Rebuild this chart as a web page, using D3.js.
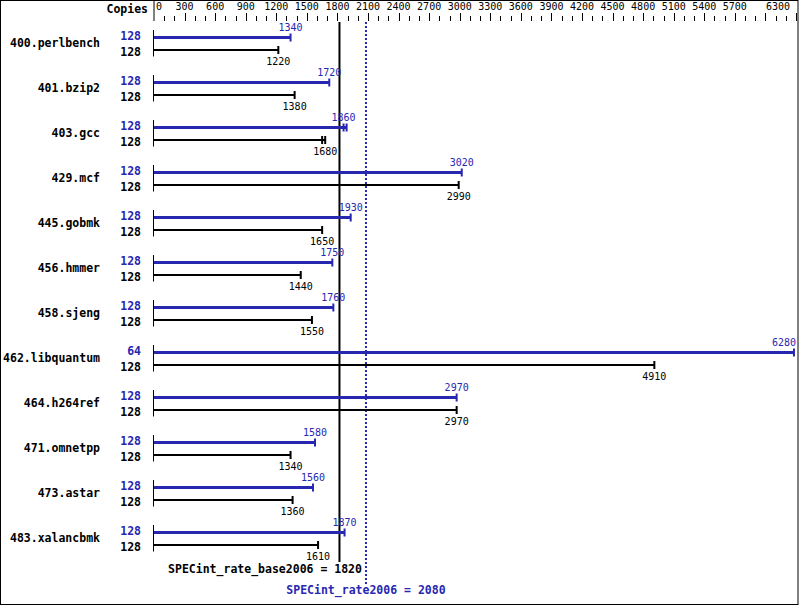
<!DOCTYPE html>
<html><head><meta charset="utf-8">
<script src="https://cdn.jsdelivr.net/npm/d3@7"></script>
<style>body{margin:0;background:#fff}svg{display:block}</style>
</head><body>
<script>
const benchmarks = ["400.perlbench","401.bzip2","403.gcc","429.mcf","445.gobmk","456.hmmer","458.sjeng","462.libquantum","464.h264ref","471.omnetpp","473.astar","483.xalancbmk"];
const peakCopies = [128,128,128,128,128,128,128,64,128,128,128,128];
const baseCopies = [128,128,128,128,128,128,128,128,128,128,128,128];
const peakValues = [1340,1720,1860,3020,1930,1750,1760,6280,2970,1580,1560,1870];
const baseValues = [1220,1380,1680,2990,1650,1440,1550,4910,2970,1340,1360,1610];
const peakOther  = [null,null,1890,null,null,null,null,null,null,null,null,null];
const baseOther  = [null,null,1650,null,null,null,null,null,null,null,null,null];
const tickLabels = [0,300,600,900,1200,1500,1800,2100,2400,2700,3000,3300,3600,3900,4200,4500,4800,5100,5400,5700,6300];
const baseScore = 1820, peakScore = 2080;

const W = 799, H = 606;
const BLUE = "#2727b0";
const MONO = "'DejaVu Sans Mono', 'Liberation Mono', monospace";
const svg = d3.select("body").append("svg").attr("width", W).attr("height", H);
const x = d3.scaleLinear().domain([0, 6300]).range([154, 796]);
const rowY = d3.scaleLinear().domain([0, 1]).range([37.5, 82.5]);

svg.append("rect").attr("x",0.5).attr("y",0.5).attr("width",W-1.5).attr("height",H-2).attr("fill","none").attr("stroke","#000");

// top axis
svg.append("line").attr("x1",x(0)).attr("x2",x(0)).attr("y1",0).attr("y2",21).attr("stroke","#000");
const minor = d3.range(100, 6301, 100);
svg.append("g").selectAll("line").data(minor).join("line")
  .attr("x1", d => Math.round(x(d))+0.5).attr("x2", d => Math.round(x(d))+0.5)
  .attr("y1", d => d % 300 === 0 ? 13 : 16).attr("y2", 21).attr("stroke","#000");
svg.append("g").selectAll("text").data(tickLabels).join("text")
  .attr("x", d => d === 0 ? x(d)+2 : (d === 6300 ? x(d)-6 : x(d)))
  .attr("y", 10)
  .attr("text-anchor", d => d === 0 ? "start" : (d === 6300 ? "end" : "middle"))
  .attr("font-family", MONO).attr("font-size", 10).text(d => d);
svg.append("text").attr("x",148).attr("y",13).attr("text-anchor","end")
  .attr("font-family",MONO).attr("font-size",11.5).attr("font-weight","bold").text("Copies");

// score lines
svg.append("line").attr("x1",x(baseScore)).attr("x2",x(baseScore)).attr("y1",22).attr("y2",562)
  .attr("stroke","#000").attr("stroke-width",2);
svg.append("line").attr("x1",x(peakScore)).attr("x2",x(peakScore)).attr("y1",22).attr("y2",584)
  .attr("stroke",BLUE).attr("stroke-width",2).attr("stroke-dasharray","2,2");

const rows = svg.append("g").selectAll("g").data(benchmarks).join("g")
  .attr("transform", (d,i) => `translate(0,${rowY(i)})`);

rows.append("text").attr("x",100).attr("y",9).attr("text-anchor","end")
  .attr("font-family",MONO).attr("font-size",11.5).attr("font-weight","bold").text(d => d);
rows.append("text").attr("x",141).attr("y",2).attr("text-anchor","end").attr("fill",BLUE)
  .attr("font-family",MONO).attr("font-size",11.5).attr("font-weight","bold").text((d,i) => peakCopies[i]);
rows.append("text").attr("x",141).attr("y",18.5).attr("text-anchor","end")
  .attr("font-family",MONO).attr("font-size",11.5).attr("font-weight","bold").text((d,i) => baseCopies[i]);
rows.append("line").attr("x1",x(0)-0.5).attr("x2",x(0)-0.5).attr("y1",-7.5).attr("y2",19).attr("stroke","#000");

function bar(g, vals, other, yy, color, sw) {
  g.append("line").attr("x1",x(0)).attr("y1",yy).attr("y2",yy)
    .attr("x2",(d,i) => x(Math.max(vals[i], other[i] || 0)))
    .attr("stroke",color).attr("stroke-width",sw);
  g.append("line").attr("x1",(d,i)=>x(vals[i])).attr("x2",(d,i)=>x(vals[i]))
    .attr("y1",yy-4).attr("y2",yy+4).attr("stroke",color).attr("stroke-width",2);
  g.filter((d,i) => other[i] != null).append("line")
    .attr("x1",d=>x(other[benchmarks.indexOf(d)])).attr("x2",d=>x(other[benchmarks.indexOf(d)]))
    .attr("y1",yy-4).attr("y2",yy+4).attr("stroke",color).attr("stroke-width",2);
}
bar(rows, peakValues, peakOther, 0, BLUE, 3);
bar(rows, baseValues, baseOther, 12.5, "#000", 2);

function valLabel(v, yy, color) {
  return g => g.append("text")
    .attr("x",(d,i) => { const xv = x(v[i]); return xv + 13 > 796 ? 796 : xv; })
    .attr("text-anchor",(d,i) => x(v[i]) + 13 > 796 ? "end" : "middle")
    .attr("y",yy).attr("fill",color).attr("font-family",MONO).attr("font-size",10)
    .text((d,i) => v[i]);
}
rows.call(valLabel(peakValues, -6.5, BLUE));
rows.call(valLabel(baseValues, 27.5, "#000"));

svg.append("text").attr("x",x(peakScore)-4).attr("y",573).attr("text-anchor","end")
  .attr("font-family",MONO).attr("font-size",11.5).attr("font-weight","bold")
  .text("SPECint_rate_base2006 = " + baseScore);
svg.append("text").attr("x",x(peakScore)).attr("y",594).attr("text-anchor","middle").attr("fill",BLUE)
  .attr("font-family",MONO).attr("font-size",11.5).attr("font-weight","bold")
  .text("SPECint_rate2006 = " + peakScore);
</script>
</body></html>
